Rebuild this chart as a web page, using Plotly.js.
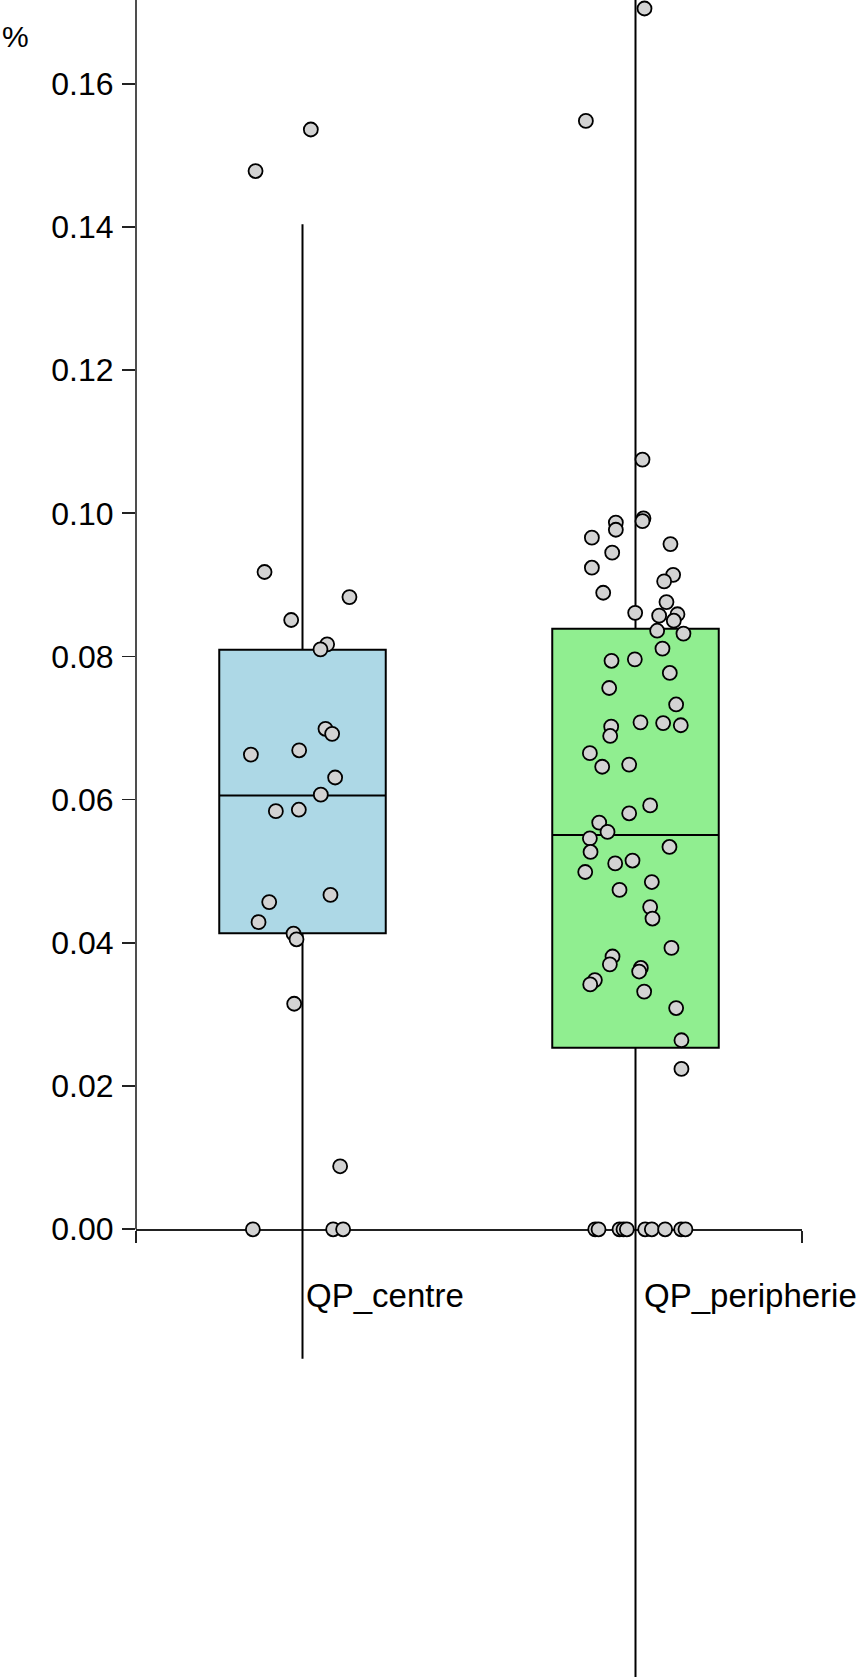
<!DOCTYPE html>
<html>
<head>
<meta charset="utf-8">
<script src="https://cdn.plot.ly/plotly-3.0.1.min.js"></script>
<style>html,body{margin:0;padding:0;background:#fff;}#chart{width:860px;height:1677px;}</style>
</head>
<body>
<div id="chart"></div>
<script>
// ---- data ----
var categories = ["QP_centre", "QP_peripherie"];
var boxQ1      = [0.04134, 0.02536];
var boxMedian  = [0.0606, 0.05507];
var boxQ3      = [0.08095, 0.08388];
var boxLower   = [-0.01807, -0.085];
var boxUpper   = [0.14036, 0.19];
var boxColors  = ["#ADD8E6", "#90EE90"];

var centreY  = [0.1478, 0.1536, 0.0918, 0.0883, 0.0851, 0.0817, 0.0810, 0.0699, 0.0692, 0.0663, 0.0669,
                0.0631, 0.0607, 0.0584, 0.0586, 0.0457, 0.0467, 0.0429, 0.0413, 0.0405, 0.0315, 0.0088,
                0, 0, 0];
var centreDX = [-0.141, 0.025, -0.114, 0.141, -0.034, 0.074, 0.054, 0.069, 0.089, -0.155, -0.010,
                0.098, 0.055, -0.080, -0.011, -0.100, 0.084, -0.132, -0.027, -0.018, -0.025, 0.113,
                -0.149, 0.092, 0.122];

var periY  = [0.1705, 0.1548, 0.1075, 0.0993, 0.0989, 0.0987, 0.0977, 0.0966, 0.0957, 0.0945, 0.0924,
              0.0914, 0.0905, 0.0889, 0.0876, 0.0861, 0.0859, 0.0857, 0.0850, 0.0836, 0.0832, 0.0811,
              0.0794, 0.0796, 0.0777, 0.0756, 0.0733, 0.0702, 0.0689, 0.0708, 0.0707, 0.0704, 0.0665,
              0.0646, 0.0649, 0.0592, 0.0581, 0.0568, 0.0555, 0.0546, 0.0527, 0.0534, 0.0499, 0.0511,
              0.0515, 0.0485, 0.0474, 0.0450, 0.0434, 0.0393, 0.0381, 0.0370, 0.0365, 0.0360, 0.0348,
              0.0342, 0.0332, 0.0309, 0.0264, 0.0224,
              0, 0, 0, 0, 0, 0, 0, 0, 0, 0];
var periDX = [0.027, -0.149, 0.021, 0.024, 0.021, -0.059, -0.059, -0.131, 0.105, -0.070, -0.131,
              0.113, 0.086, -0.097, 0.093, -0.001, 0.126, 0.071, 0.115, 0.065, 0.144, 0.081,
              -0.072, -0.002, 0.103, -0.079, 0.122, -0.073, -0.076, 0.015, 0.083, 0.136, -0.137,
              -0.100, -0.019, 0.044, -0.019, -0.109, -0.084, -0.137, -0.135, 0.102, -0.151, -0.061,
              -0.009, 0.049, -0.048, 0.044, 0.051, 0.108, -0.069, -0.077, 0.016, 0.011, -0.122,
              -0.136, 0.026, 0.122, 0.138, 0.138,
              -0.121, -0.111, -0.048, -0.036, -0.026, 0.029, 0.049, 0.089, 0.137, 0.150];

var yTickVals = [0, 0.02, 0.04, 0.06, 0.08, 0.10, 0.12, 0.14, 0.16];
var yUnit = "%";

// ---- layout helpers ----
var yMin = -0.06253, yMax = 0.17169;
var FONT = "Liberation Sans, Arial, Helvetica, sans-serif";
var labelShift = [1, 6];

var traces = [];
categories.forEach(function (c, i) {
  traces.push({
    type: "box", name: c, x: [i],
    q1: [boxQ1[i]], median: [boxMedian[i]], q3: [boxQ3[i]],
    lowerfence: [boxLower[i]], upperfence: [boxUpper[i]],
    boxpoints: false, width: 0.5, whiskerwidth: 0,
    fillcolor: boxColors[i], line: {color: "#000", width: 2},
    hoverinfo: "skip", showlegend: false
  });
});
function pts(base, dx, ys) {
  return {
    type: "scatter", mode: "markers",
    x: dx.map(function (d) { return base + d; }), y: ys,
    marker: {size: 14, color: "#D3D3D3", line: {color: "#000", width: 1.8}},
    cliponaxis: false, showlegend: false, hoverinfo: "skip"
  };
}
traces.push(pts(0, centreDX, centreY));
traces.push(pts(1, periDX, periY));

var zeroFrac = (0 - yMin) / (yMax - yMin);

var layout = {
  width: 860, height: 1677,
  margin: {l: 136, r: 58, t: 0, b: 0, pad: 0},
  paper_bgcolor: "#fff", plot_bgcolor: "#fff",
  showlegend: false,
  font: {family: FONT, color: "#000", size: 32},
  xaxis: {
    range: [-0.5, 1.5], anchor: "free", position: zeroFrac,
    showline: true, linecolor: "#222", linewidth: 1.6,
    ticks: "outside", ticklen: 12, tickwidth: 1.6, tickcolor: "#222",
    tickvals: [-0.5, 0, 1, 1.5], showticklabels: false,
    showgrid: false, zeroline: false, layer: "below traces", fixedrange: true
  },
  yaxis: {
    range: [yMin, yMax], domain: [0, 1],
    showline: false, ticks: "outside", ticklen: 13, tickwidth: 1.6, tickcolor: "#222",
    tickvals: yTickVals, tickformat: ".2f",
    tickfont: {family: FONT, size: 32, color: "#000"},
    ticklabelstandoff: 2,
    showgrid: false, zeroline: false, fixedrange: true
  },
  shapes: [{
    type: "line", xref: "paper", yref: "y", x0: 0, x1: 0, y0: 0, y1: yMax,
    line: {color: "#222", width: 1.6}, layer: "below"
  }],
  annotations: [
    {text: yUnit, xref: "paper", yref: "paper", x: 0, y: 1, xanchor: "left", yanchor: "middle",
     xshift: -136, yshift: -36, showarrow: false, font: {family: FONT, size: 30, color: "#000"}}
  ]
};
categories.forEach(function (c, i) {
  layout.annotations.push({
    text: c, xref: "x", yref: "y", x: i, y: 0, xanchor: "left", yanchor: "top",
    xshift: labelShift[i], yshift: -46, showarrow: false,
    font: {family: FONT, size: 33, color: "#000"}
  });
});

Plotly.newPlot("chart", traces, layout, {staticPlot: true, displayModeBar: false});
</script>
</body>
</html>
